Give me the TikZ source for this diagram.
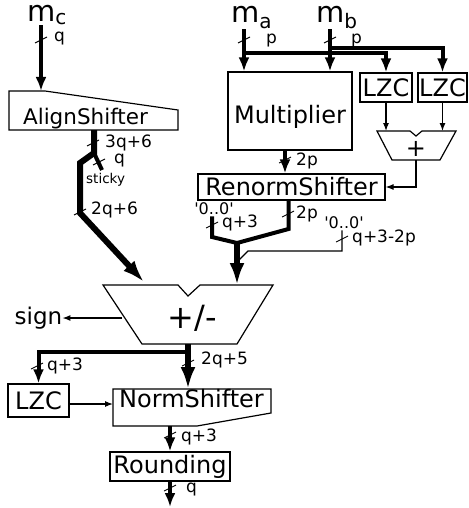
\documentclass[tikz,border=0pt]{standalone}
\usepackage{fontspec}
\setmainfont{DejaVu Sans}
\usetikzlibrary{arrows.meta, positioning}

\begin{document}
\begin{tikzpicture}[
		x=1pt, y=-1pt,
		box/.style={draw, line width=1.2pt},
		unit/.style={box, rectangle, inner sep=1pt, font=\fontsize{24}{26}\selectfont},
		blk/.style={inner sep=0pt, font=\fontsize{24}{26}\selectfont},
		lbl/.style={inner sep=1pt, anchor=west, font=\fontsize{17}{19}\selectfont},
		mlbl/.style={inner sep=0pt, anchor=base west, font=\fontsize{29}{30}\selectfont},
		wire/.style={line width=1.1pt},
		bus/.style={line width=4pt},
		widebus/.style={line width=6pt},
		smalltip/.style={-{Latex[length=8pt,width=6pt]}},
		bustip/.style={-{Latex[length=14pt,width=11pt]}},
		bigtip/.style={-{Latex[length=22pt,width=15pt]}},
		bustick/.pic={\draw[line width=0.9pt] (-6,3) -- (6,-3);}
		]
		\useasboundingbox (0,0) rectangle (468,508);
		
		% Inputs
		\node[mlbl] (mc) at (27,22) {m\raisebox{-3pt}{\fontsize{20}{20}\selectfont c}};
		\node[mlbl] (ma) at (231,23) {m\raisebox{-6pt}{\fontsize{20}{20}\selectfont a}};
		\node[mlbl] (mb) at (316,23) {m\raisebox{-6pt}{\fontsize{20}{20}\selectfont b}};
		
		% Product path
		\node[unit, minimum width=124pt, minimum height=78pt, text height=26pt, text depth=0pt] (mult) at (290,111) {Multiplier};
		\node[unit, minimum width=52pt, minimum height=29pt] (lzcA) at (386,87.5) {LZC};
		\node[unit, minimum width=49pt, minimum height=29pt] (lzcB) at (442.5,87.5) {LZC};
		\draw[box] (377,131) -- (410,131) -- (416,136) -- (422,131) -- (456,131) -- (440,160) -- (392,160) -- cycle;
		\node[blk] (add) at (416,149) {+};
		\node[unit, minimum width=187pt, minimum height=26pt] (renorm) at (291.5,187) {RenormShifter};
		
		% Addend path
		\draw[box] (9,91) -- (45,91) -- (178,110) -- (178,130) -- (9,130) -- cycle;
		\node[blk, font=\fontsize{21.5}{24}\selectfont] (align) at (85.5,119) {AlignShifter};
		
		% Adder and normalisation
		\draw[box] (103,285) -- (178,285) -- (188,296) -- (200,285) -- (273,285) -- (237,344) -- (142,344) -- cycle;
		\node[blk, font=\fontsize{32}{34}\selectfont] (pm) at (192,318) {+/-};
		\node[blk, font=\fontsize{23}{25}\selectfont] (sign) at (38.5,318) {sign};
		\node[unit, minimum width=61pt, minimum height=33pt] (lzcC) at (38.5,400.5) {LZC};
		\draw[box] (113,389) -- (271,389) -- (271,413) -- (197,426) -- (113,426) -- cycle;
		\node[blk] (norm) at (191.5,399) {NormShifter};
		\node[unit, minimum width=120pt, minimum height=29pt] (rounding) at (170,466.5) {Rounding};
		
		% Ports and bends
		\coordinate (alignIn) at (41,91);
		\coordinate (alignOut) at (94,130);
		\coordinate (split) at (94,153);
		\coordinate (stickyEnd) at (102,170);
		\coordinate (tapA) at (244,53);
		\coordinate (tapB) at (330,48);
		\coordinate (addTop) at (416,131);
		\coordinate (addOut) at (416,160);
		\coordinate (merge) at (237,243);
		\coordinate (joinR) at (238,261);
		\coordinate (pmInL) at (144,282);
		\coordinate (pmInR) at (237,285);
		\coordinate (pmSide) at (122,318);
		\coordinate (pmOut) at (188,344);
		\coordinate (pmTap) at (188,352);
		\coordinate (normIn) at (188,389);
		\coordinate (normW) at (113,404);
		\coordinate (normOut) at (170,426);
		\coordinate (out) at (170,507);
		
		% Connect them
		\draw[bus, bustip] (mc.south -| alignIn) -- (alignIn);
		\draw[widebus, bigtip] (alignOut) -- (split) -- (80,163) -- (80,213) -- (pmInL);
		\draw[bus] (split) -- (stickyEnd);
		
		\draw[bus, bustip] (ma.south -| tapA) -- (tapA |- mult.north);
		\draw[bus, bustip] (mb.south -| tapB) -- (tapB |- mult.north);
		\draw[bus, bustip] (tapA) -| (lzcA.north);
		\draw[bus, bustip] (tapB) -| (lzcB.north);
		\draw[wire, smalltip] (lzcA.south) -- (lzcA.south |- addTop);
		\draw[wire, smalltip] (lzcB.south) -- (lzcB.south |- addTop);
		\draw[wire, smalltip] (addOut) |- (renorm.east);
		\draw[bus, bustip] ([xshift=-5pt]mult.south) -- ([xshift=-5pt]mult.south |- renorm.north);
		
		\node[lbl, anchor=center, font=\fontsize{16}{18}\selectfont] (zerosL) at (214,209) {\textquotesingle 0..0\textquotesingle};
		\node[lbl, anchor=center, font=\fontsize{16}{18}\selectfont] (zerosR) at (344,223) {\textquotesingle 0..0\textquotesingle};
		\draw[bus] ([xshift=-2pt]zerosL.south) -- ([xshift=-2pt]zerosL.south |- 0,237) -- (merge);
		\draw[bus] ([xshift=-3pt]renorm.south) -- ([xshift=-3pt]renorm.south |- 0,229) -- (merge);
		\draw[wire] ([xshift=-2pt]zerosR.south) |- (248,251) -- (joinR);
		\draw[widebus, bigtip] (merge) -- (pmInR);
		
		\draw[wire, smalltip] (pmSide) -- (sign.east);
		\draw[widebus, bigtip] (pmOut) -- (normIn);
		\draw[bus, bustip] (pmTap) -| (lzcC.north);
		\draw[wire, smalltip] (lzcC.east |- normW) -- (normW);
		\draw[bus, bustip] (normOut) -- (rounding.north);
		\draw[bus, bustip] (rounding.south) -- (out);
		
		% Bus widths
		\pic at (41,40) {bustick};
		\node[lbl] (wMc) at (53,39) {q};
		\pic at (93,143) {bustick};
		\node[lbl] (wAlign) at (104,143) {3q+6};
		\pic at (99,162) {bustick};
		\node[lbl] (wSticky) at (113,161) {q};
		\node[lbl, font=\fontsize{13.5}{15}\selectfont] (sticky) at (85,180) {sticky};
		\pic at (80,212) {bustick};
		\node[lbl] (wAddend) at (90,210) {2q+6};
		\pic at (244,40) {bustick};
		\node[lbl] (wMa) at (265,41) {p};
		\pic at (330,40) {bustick};
		\node[lbl] (wMb) at (350,41) {p};
		\pic at (285,160) {bustick};
		\node[lbl] (wMult) at (295,161) {2p};
		\pic at (212,225) {bustick};
		\node[lbl] (wZerosL) at (221,223) {q+3};
		\pic at (288,214) {bustick};
		\node[lbl] (wProd) at (295,214) {2p};
		\pic at (342,239) {bustick};
		\node[lbl] (wZerosR) at (351,238) {q+3-2p};
		\pic at (37,366) {bustick};
		\node[lbl] (wLzc) at (46,366) {q+3};
		\pic at (188,363) {bustick};
		\node[lbl] (wSum) at (200,360) {2q+5};
		\pic at (170,435) {bustick};
		\node[lbl] (wNorm) at (180,437) {q+3};
		\pic at (170,488) {bustick};
		\node[lbl] (wOut) at (185,490) {q};
	\end{tikzpicture}
\end{document}
